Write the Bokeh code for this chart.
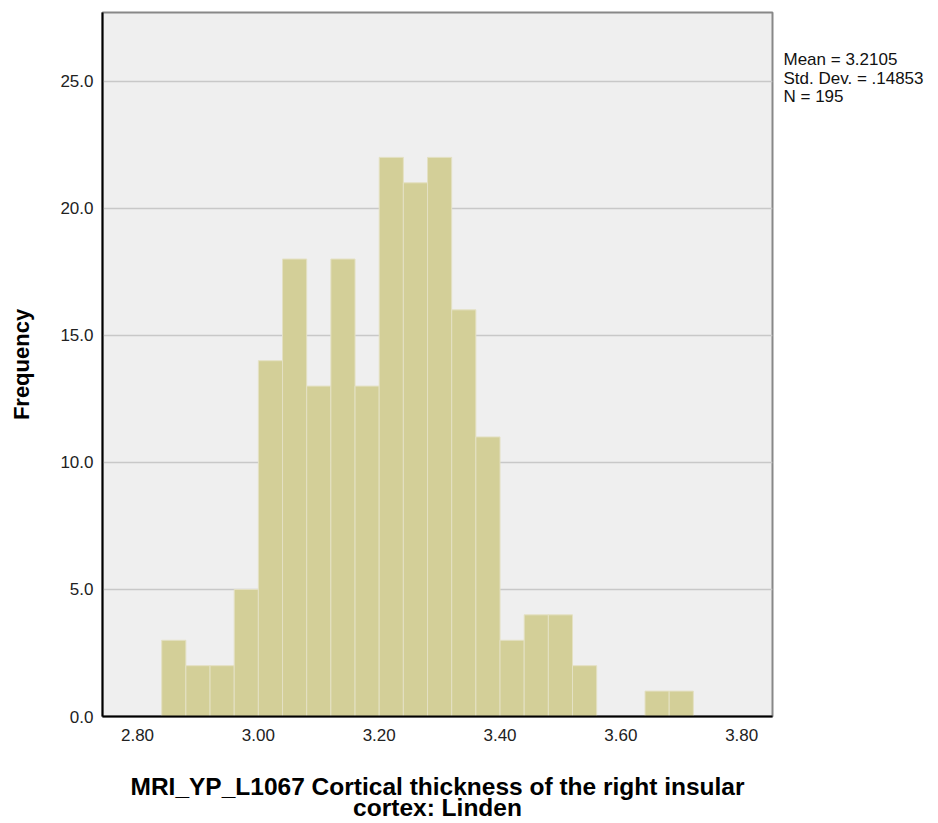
from bokeh.plotting import figure
from bokeh.layouts import row, column
from bokeh.models import ColumnDataSource, FixedTicker, NumeralTickFormatter, Range1d
from bokeh.core.properties import value
from bokeh.embed import file_html
from bokeh.resources import INLINE

# Data
bin_left = [2.84, 2.88, 2.92, 2.96, 3.00, 3.04, 3.08, 3.12, 3.16, 3.20, 3.24,
            3.28, 3.32, 3.36, 3.40, 3.44, 3.48, 3.52, 3.56, 3.60, 3.64, 3.68]
bin_right = [2.88, 2.92, 2.96, 3.00, 3.04, 3.08, 3.12, 3.16, 3.20, 3.24, 3.28,
             3.32, 3.36, 3.40, 3.44, 3.48, 3.52, 3.56, 3.60, 3.64, 3.68, 3.72]
counts = [3, 2, 2, 5, 14, 18, 13, 18, 13, 22, 21, 22, 16, 11, 3, 4, 4, 2, 0, 0, 1, 1]

x_ticks = [2.80, 3.00, 3.20, 3.40, 3.60, 3.80]
y_ticks = [0, 5, 10, 15, 20, 25]

stats_lines = ["Mean = 3.2105", "Std. Dev. = .14853", "N = 195"]
x_title_lines = ["MRI_YP_L1067 Cortical thickness of the right insular", "cortex: Linden"]
y_title = "Frequency"

src = ColumnDataSource(dict(left=bin_left, right=bin_right, top=counts,
                            bottom=[0] * len(counts)))

# Main histogram
p = figure(width=775, height=760, output_backend="svg", toolbar_location=None,
           x_range=Range1d(2.742, 3.851), y_range=Range1d(0, 27.7),
           min_border_left=102, min_border_right=3, min_border_top=12,
           min_border_bottom=44, background_fill_color="#efefef",
           border_fill_color="white")

p.quad(left="left", right="right", top="top", bottom="bottom", source=src,
       fill_color="#d3cf98", line_color="#e4e1c4", line_width=1)

p.xgrid.visible = False
p.ygrid.grid_line_color = "#c8c8c8"
p.ygrid.grid_line_width = 1.5
p.ygrid.ticker = FixedTicker(ticks=y_ticks)

p.xaxis.ticker = FixedTicker(ticks=x_ticks)
p.yaxis.ticker = FixedTicker(ticks=y_ticks)
p.xaxis.formatter = NumeralTickFormatter(format="0.00")
p.yaxis.formatter = NumeralTickFormatter(format="0.0")

for ax in (p.xaxis, p.yaxis):
    ax.major_tick_line_color = None
    ax.minor_tick_line_color = None
    ax.major_tick_out = 0
    ax.major_tick_in = 0
    ax.axis_line_color = "black"
    ax.axis_line_width = 2
    ax.major_label_text_font = "Liberation Sans"
    ax.major_label_text_font_size = "17px"
    ax.major_label_text_color = "#222222"

p.xaxis.major_label_standoff = 12
p.yaxis.major_label_standoff = 9

p.yaxis.axis_label = y_title
p.yaxis.axis_label_text_font = "Liberation Sans"
p.yaxis.axis_label_text_font_style = "bold"
p.yaxis.axis_label_text_font_size = "22px"
p.yaxis.axis_label_text_color = "black"
p.yaxis.axis_label_standoff = 23

p.outline_line_color = "#888888"
p.outline_line_width = 2

# Statistics box to the right of the chart (frame aligned with the main frame:
# its y range spans the same pixel rows, 12..716)
p2 = figure(width=155, height=760, output_backend="svg", toolbar_location=None,
            title=None, x_range=Range1d(0, 155), y_range=Range1d(716, 12),
            x_axis_location=None, y_axis_location=None,
            min_border_left=0, min_border_right=0, min_border_top=12,
            min_border_bottom=44, outline_line_color=None,
            background_fill_color="white", border_fill_color="white")
p2.grid.visible = False
stats_src = ColumnDataSource(dict(x=[8, 8, 8], y=[59, 77.5, 96], text=stats_lines))
p2.text(x="x", y="y", text="text", source=stats_src, text_font=value("Liberation Sans"),
        text_font_size="17px", text_color="#111111", text_baseline="alphabetic")

# Two-line x-axis title below the chart
p3 = figure(width=775, height=63, output_backend="svg", toolbar_location=None,
            title=None, x_range=Range1d(0, 775), y_range=Range1d(63, 0),
            x_axis_location=None, y_axis_location=None,
            min_border=0, outline_line_color=None, background_fill_color="white",
            border_fill_color="white")
p3.grid.visible = False
title_src = ColumnDataSource(dict(x=[437, 437], y=[25.5, 47], text=x_title_lines))
p3.text(x="x", y="y", text="text", source=title_src, text_font=value("Liberation Sans"),
        text_font_style="bold", text_font_size="24.5px", text_color="black",
        text_align="center", text_baseline="middle")

layout = column(row(p, p2, spacing=0), p3, spacing=0)
open("out.html", "w").write(file_html(layout, INLINE))
